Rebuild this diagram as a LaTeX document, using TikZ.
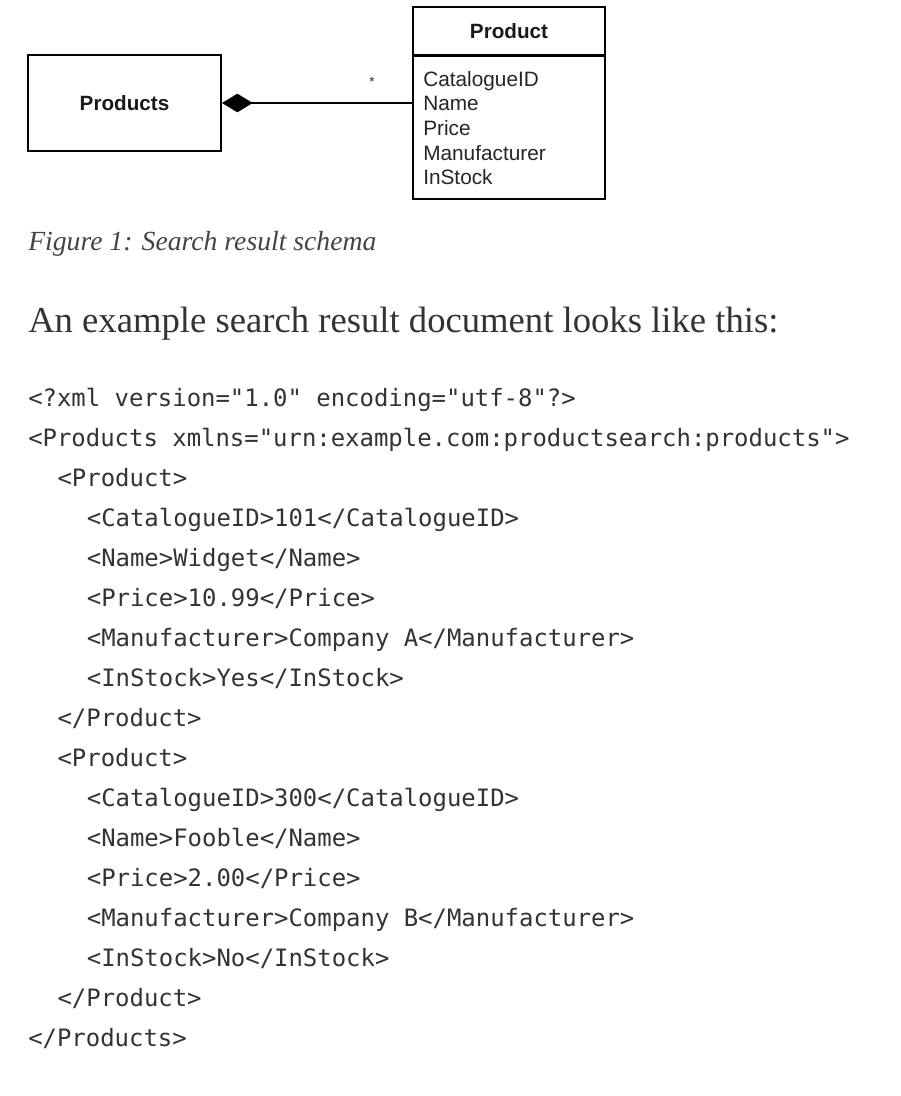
\documentclass[tikz,border=0pt]{standalone}
\usepackage{fontspec}
\usepackage{graphicx}
\usetikzlibrary{arrows.meta,fit}
\setmainfont{Liberation Serif}
\newfontfamily\umlfont{Liberation Sans}
\newfontfamily\codefont{DejaVu Sans Mono}
\definecolor{txt}{HTML}{333333}
\definecolor{capgrey}{HTML}{444444}
\begin{document}
\begin{tikzpicture}[x=0.75pt,y=-0.75pt,
  umlbox/.style={draw=black,line width=1.5pt,inner sep=0pt},
  umltitle/.style={font=\umlfont\bfseries\fontsize{15.5pt}{18pt}\selectfont,inner sep=0pt,text=black!90},
  attr/.style={font=\umlfont\fontsize{15.6pt}{18pt}\selectfont,anchor=base west,inner sep=0pt,text=black!85},
  codeline/.style={font=\codefont\fontsize{17.95pt}{22pt}\selectfont,anchor=base west,inner sep=0pt,text=txt},
  link/.style={draw=black,line width=1.5pt}]
\path[use as bounding box,fill=white] (0,0) rectangle (900,1096);
% UML diagram
\node[umlbox,fit={(28,55) (221,151)}] (prods) {};
\node[umltitle] (prodslabel) at (prods.center) {Products};
\node[umlbox,fit={(413,7) (605,54.5)}] (head) {};
\node[umltitle] (headlabel) at (head.center) {Product};
\node[umlbox,fit={(413,55.5) (605,199)}] (body) {};
\node[attr] (a1) at (423,86) {CatalogueID};
\node[attr] (a2) at (423,110.5) {Name};
\node[attr] (a3) at (423,135) {Price};
\node[attr] (a4) at (423,160) {Manufacturer};
\node[attr] (a5) at (423,184.5) {InStock};
\node[font=\umlfont\fontsize{10pt}{12pt}\selectfont,inner sep=0pt,text=black!85] (mult) at (372,82) {*};
\draw[link,{Diamond[length=23pt,width=14pt]}-] (prods.east) -- (prods.east -| body.west);
% caption and heading
\node[anchor=base west,inner sep=0pt,text=capgrey] (caption) at (28,250) {\resizebox{261pt}{!}{\itshape Figure 1: Search result schema}};
\node[anchor=base west,inner sep=0pt,text=txt] (heading) at (28,332) {\resizebox{562.5pt}{!}{An example search result document looks like this:}};
% code listing
\node[codeline] (c1) at (28,406) {<?xml version="1.0" encoding="utf-8"?>};
\node[codeline] (c2) at (28,446) {<Products xmlns="urn:example.com:productsearch:products">};
\node[codeline] (c3) at (57.3,486) {<Product>};
\node[codeline] (c4) at (86.6,526) {<CatalogueID>101</CatalogueID>};
\node[codeline] (c5) at (86.6,566) {<Name>Widget</Name>};
\node[codeline] (c6) at (86.6,606) {<Price>10.99</Price>};
\node[codeline] (c7) at (86.6,646) {<Manufacturer>Company A</Manufacturer>};
\node[codeline] (c8) at (86.6,686) {<InStock>Yes</InStock>};
\node[codeline] (c9) at (57.3,726) {</Product>};
\node[codeline] (c10) at (57.3,766) {<Product>};
\node[codeline] (c11) at (86.6,806) {<CatalogueID>300</CatalogueID>};
\node[codeline] (c12) at (86.6,846) {<Name>Fooble</Name>};
\node[codeline] (c13) at (86.6,886) {<Price>2.00</Price>};
\node[codeline] (c14) at (86.6,926) {<Manufacturer>Company B</Manufacturer>};
\node[codeline] (c15) at (86.6,966) {<InStock>No</InStock>};
\node[codeline] (c16) at (57.3,1006) {</Product>};
\node[codeline] (c17) at (28,1046) {</Products>};
\end{tikzpicture}
\end{document}
